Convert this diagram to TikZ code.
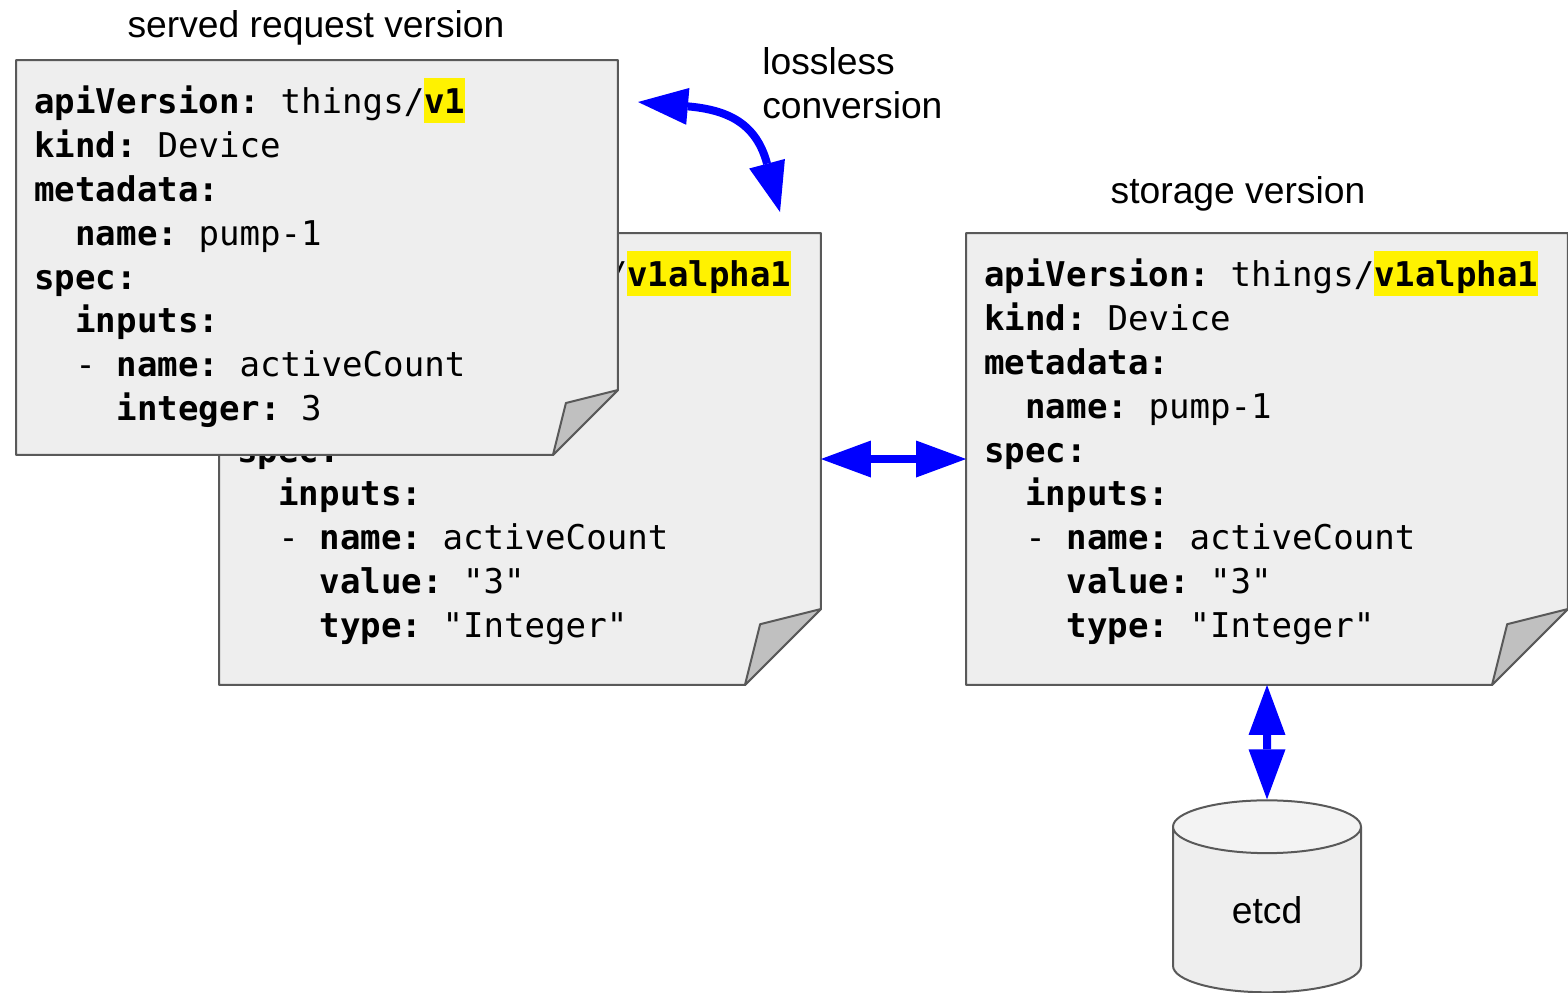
\documentclass[tikz,border=0pt]{standalone}
\usepackage{fontspec}
\setmainfont{Liberation Sans}
\setmonofont{DejaVu Sans Mono}
\usetikzlibrary{arrows.meta,shapes.geometric}

\definecolor{sheetgray}{HTML}{EEEEEE}
\definecolor{sheetline}{HTML}{595959}
\definecolor{flapgray}{HTML}{C0C0C0}
\definecolor{lidgray}{HTML}{F3F3F3}

% yaml helpers: bold key, two-space indent, highlighted version
\newcommand{\yk}[1]{\textbf{#1}}
\newcommand{\ind}{\phantom{xx}}
\newcommand{\hlver}[1]{{\setlength{\fboxsep}{0pt}\colorbox{yellow}{\vrule width 0pt height 19.9pt depth 5.7pt\textbf{#1}}}}

\tikzset{
  sheet/.style={draw=sheetline, fill=sheetgray, line width=0.04cm, line join=round},
  flap/.style={draw=sheetline, fill=flapgray, line width=0.04cm, line join=round},
  sheetbox/.style={minimum width=12.04cm, inner sep=0pt, outer sep=0pt},
  yaml/.style={font=\ttfamily\fontsize{19.4pt}{25pt}\selectfont, align=left, anchor=north west, inner sep=0pt},
  caption/.style={font=\fontsize{21.2pt}{25pt}\selectfont, inner sep=0pt},
  link/.style={draw=blue, line width=0.16cm,
    {Triangle[length=1cm,width=0.74cm,line width=0pt]}-{Triangle[length=1cm,width=0.74cm,line width=0pt]}},
  store/.style={cylinder, shape border rotate=90, aspect=0.75, draw=sheetline, line width=0.04cm,
    minimum width=3.76cm, minimum height=3.84cm, inner sep=0pt, cylinder uses custom fill,
    cylinder body fill=sheetgray, cylinder end fill=lidgray, font=\fontsize{21.2pt}{25pt}\selectfont},
}

% sheet outline with a folded bottom right corner
\newcommand{\drawsheet}[2]{%
  \filldraw[sheet] (#1.north west) -- (#1.north east) -- ([yshift=#2]#1.south east)
    -- ([xshift=-#2]#1.south east) -- (#1.south west) -- cycle;%
  \filldraw[flap] ([yshift=#2]#1.south east) -- ([shift={(-0.8*#2,0.8*#2)}]#1.south east)
    -- ([xshift=-#2]#1.south east) -- cycle;%
}

\begin{document}
\begin{tikzpicture}[x=0.02cm, y=-0.02cm]
        \useasboundingbox (0,0) rectangle (1568,992);

        % Sheet with the converted v1alpha1 object
        \node[sheetbox, minimum height=9.04cm] (alphasheet) at (520,459) {};
        \drawsheet{alphasheet}{1.52cm}
        \node[yaml] (alphatext) at ([shift={(0.36cm,-0.36cm)}]alphasheet.north west) {%
          \yk{apiVersion:} things/\hlver{v1alpha1}\\
          \yk{kind:} Device\\
          \yk{metadata:}\\
          \ind\yk{name:} pump-1\\
          \yk{spec:}\\
          \ind\yk{inputs:}\\
          \ind- \yk{name:} activeCount\\
          \ind\ind\yk{value:} "3"\\
          \ind\ind\yk{type:} "Integer"};

        % Sheet with the stored object
        \node[sheetbox, minimum height=9.04cm] (storesheet) at (1267,459) {};
        \drawsheet{storesheet}{1.52cm}
        \node[yaml] (storetext) at ([shift={(0.36cm,-0.36cm)}]storesheet.north west) {%
          \yk{apiVersion:} things/\hlver{v1alpha1}\\
          \yk{kind:} Device\\
          \yk{metadata:}\\
          \ind\yk{name:} pump-1\\
          \yk{spec:}\\
          \ind\yk{inputs:}\\
          \ind- \yk{name:} activeCount\\
          \ind\ind\yk{value:} "3"\\
          \ind\ind\yk{type:} "Integer"};

        % Sheet with the served v1 object, on top
        \node[sheetbox, minimum height=7.9cm] (servedsheet) at (317,257.5) {};
        \drawsheet{servedsheet}{1.3cm}
        \node[yaml] (servedtext) at ([shift={(0.36cm,-0.36cm)}]servedsheet.north west) {%
          \yk{apiVersion:} things/\hlver{v1}\\
          \yk{kind:} Device\\
          \yk{metadata:}\\
          \ind\yk{name:} pump-1\\
          \yk{spec:}\\
          \ind\yk{inputs:}\\
          \ind- \yk{name:} activeCount\\
          \ind\ind\yk{integer:} 3};

        % Captions
        \node[caption, anchor=base] (servedlbl) at (316,37) {served request version};
        \node[caption, anchor=base] (storelbl) at (1238,203) {storage version};
        \node[caption, anchor=base west, align=left] (convlbl) at (762,118) {lossless\\conversion};

        % etcd store
        \node[store] (etcd) at (1267,910) {etcd};

        % Drawing the arrows
        \coordinate (convfrom) at (638,102);
        \coordinate (convto) at (780,212);
        \draw[link] (convfrom) to[out=-5, in=105, looseness=1.3] (convto);
        \draw[link] (alphasheet.east) -- (storesheet.west);
        \draw[link] (storesheet.south) -- (etcd.north);
\end{tikzpicture}
\end{document}
